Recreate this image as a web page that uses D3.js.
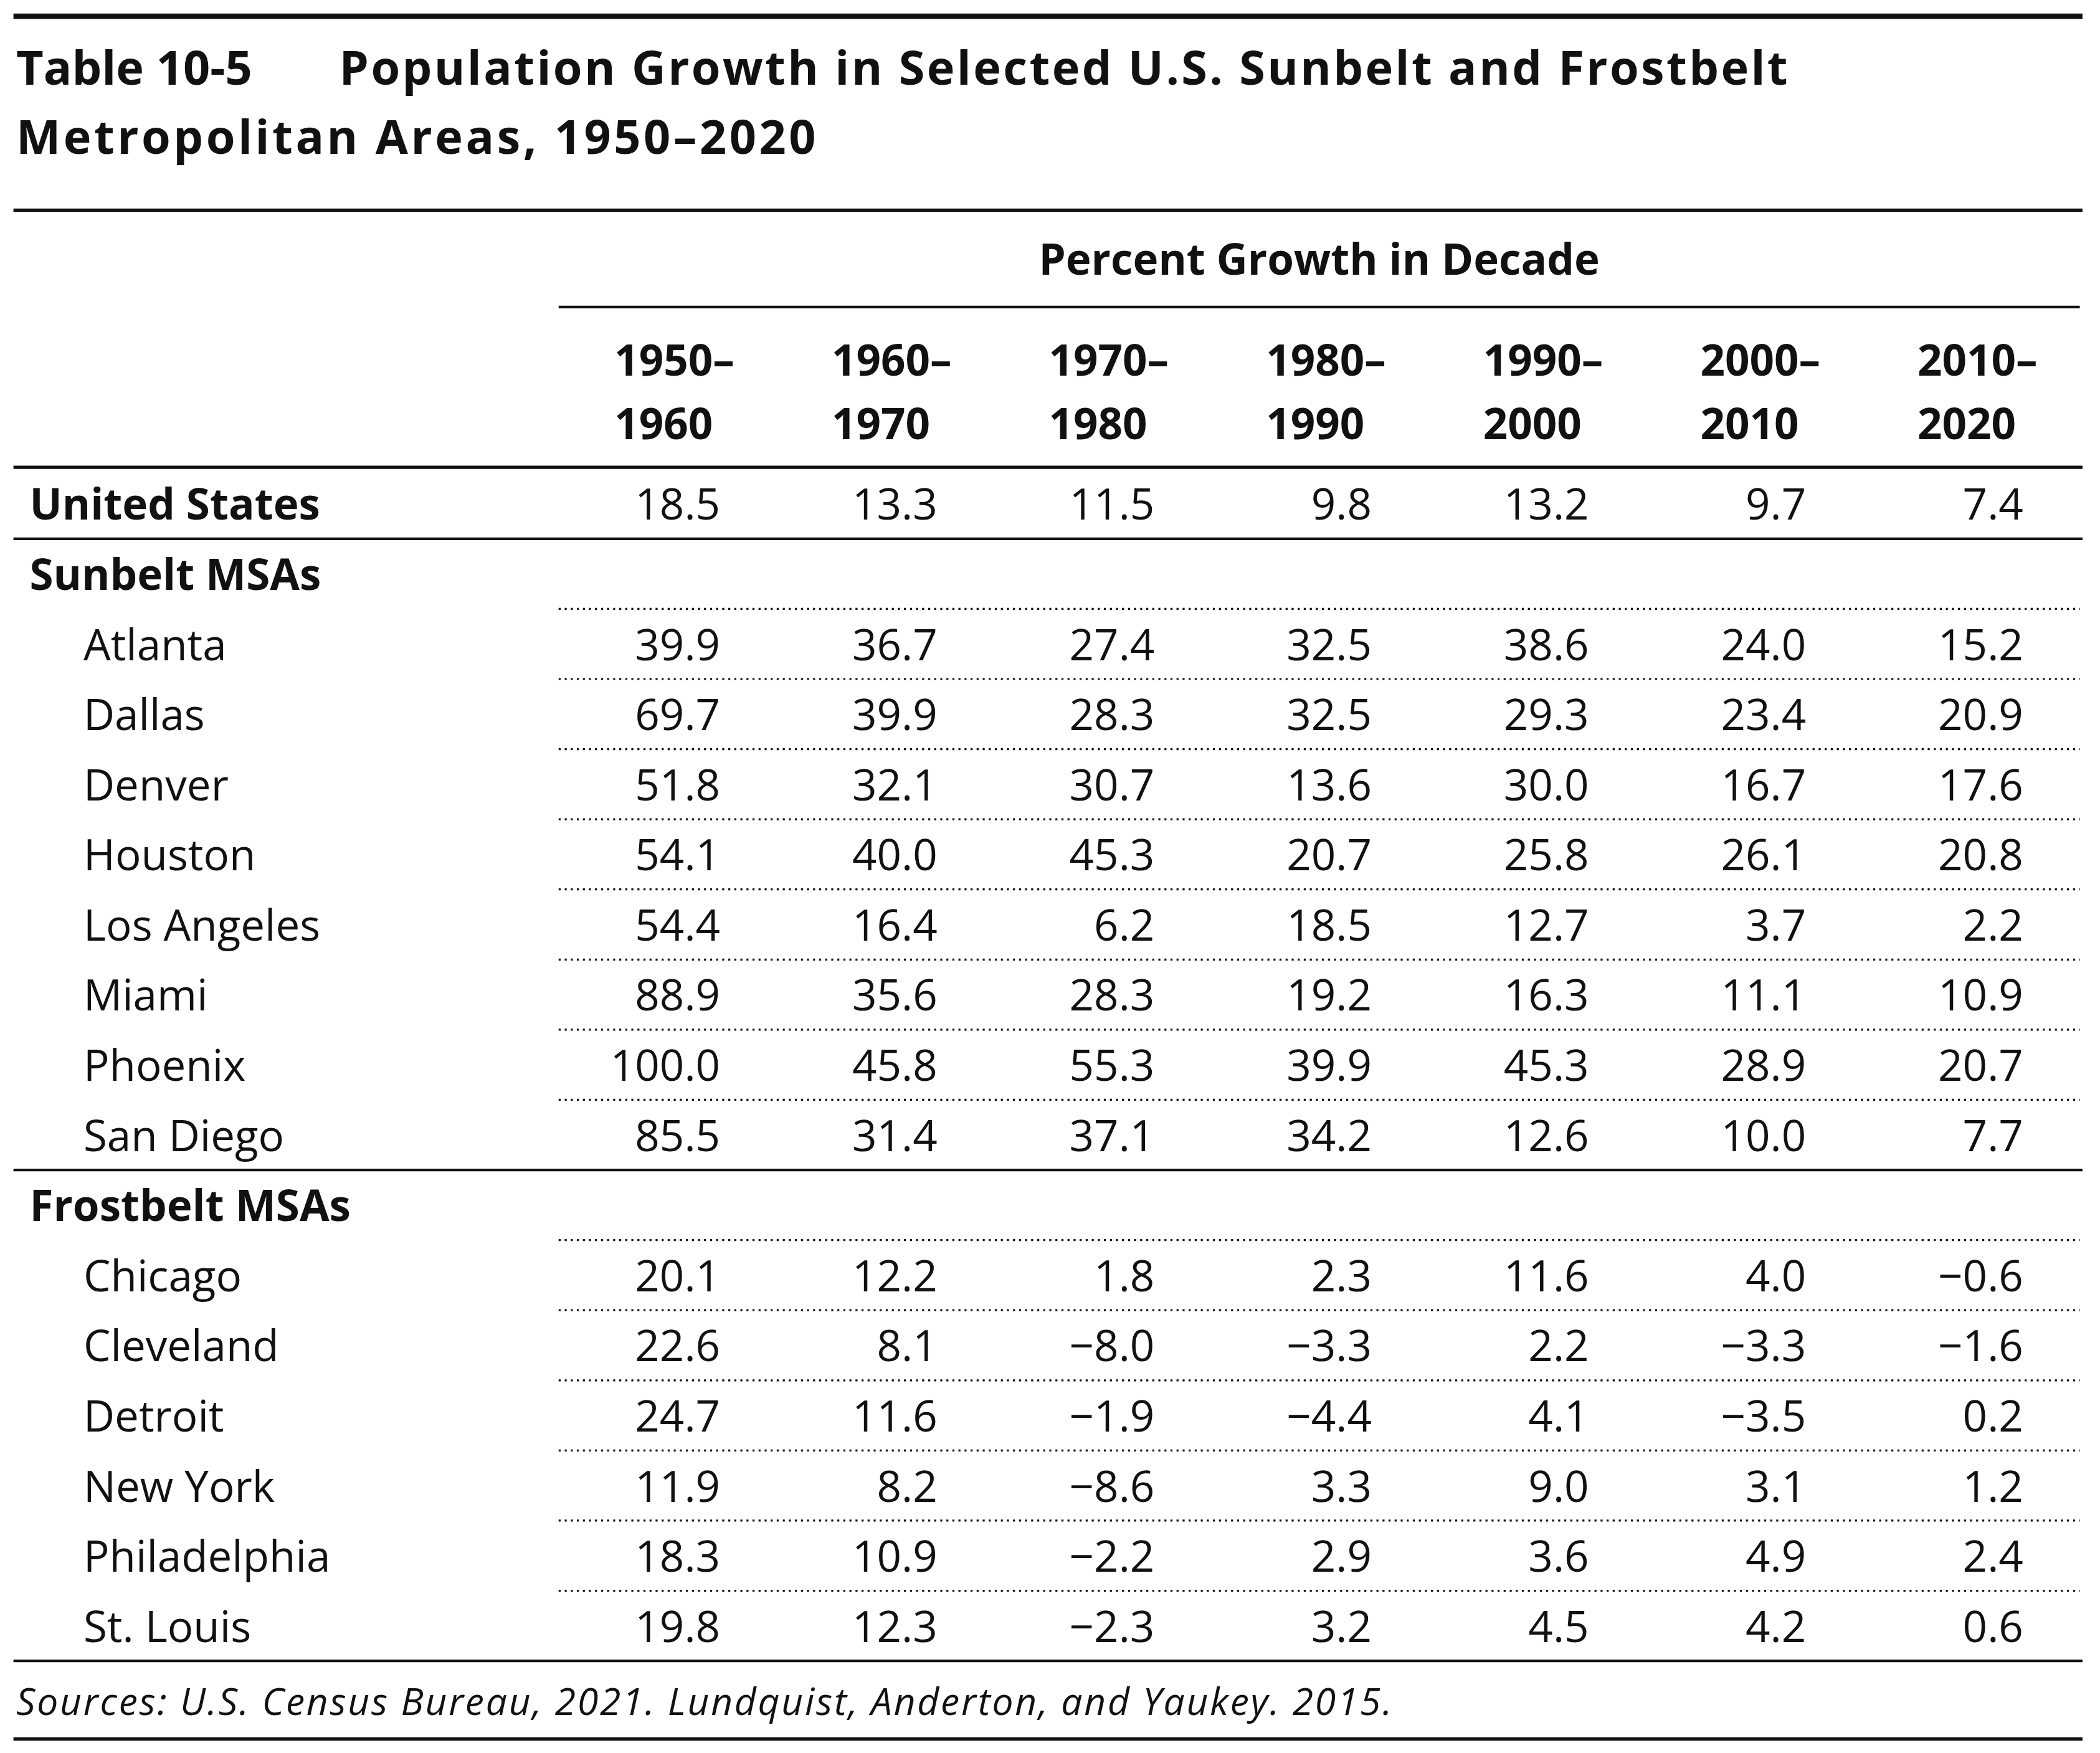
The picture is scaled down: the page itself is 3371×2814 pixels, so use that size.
<!DOCTYPE html>
<html><head><meta charset="utf-8">
<script src="https://cdn.jsdelivr.net/npm/d3@7"></script>
<style>body{margin:0;background:#fff}text{font-family:"Open Sans","Noto Sans",sans-serif;fill:#111}</style>
</head><body>
<script>
var periods = [["1950–","1960"],["1960–","1970"],["1970–","1980"],["1980–","1990"],["1990–","2000"],["2000–","2010"],["2010–","2020"]];
var usRow = ["18.5","13.3","11.5","9.8","13.2","9.7","7.4"];
var sunbeltNames = ["Atlanta","Dallas","Denver","Houston","Los Angeles","Miami","Phoenix","San Diego"];
var sunbeltValues = [
 ["39.9","36.7","27.4","32.5","38.6","24.0","15.2"],
 ["69.7","39.9","28.3","32.5","29.3","23.4","20.9"],
 ["51.8","32.1","30.7","13.6","30.0","16.7","17.6"],
 ["54.1","40.0","45.3","20.7","25.8","26.1","20.8"],
 ["54.4","16.4","6.2","18.5","12.7","3.7","2.2"],
 ["88.9","35.6","28.3","19.2","16.3","11.1","10.9"],
 ["100.0","45.8","55.3","39.9","45.3","28.9","20.7"],
 ["85.5","31.4","37.1","34.2","12.6","10.0","7.7"]];
var frostbeltNames = ["Chicago","Cleveland","Detroit","New York","Philadelphia","St. Louis"];
var frostbeltValues = [
 ["20.1","12.2","1.8","2.3","11.6","4.0","−0.6"],
 ["22.6","8.1","−8.0","−3.3","2.2","−3.3","−1.6"],
 ["24.7","11.6","−1.9","−4.4","4.1","−3.5","0.2"],
 ["11.9","8.2","−8.6","3.3","9.0","3.1","1.2"],
 ["18.3","10.9","−2.2","2.9","3.6","4.9","2.4"],
 ["19.8","12.3","−2.3","3.2","4.5","4.2","0.6"]];

// rows in display order
var rows = [{name:"United States", vals:usRow, kind:"us"}, {name:"Sunbelt MSAs", kind:"head"}];
sunbeltNames.forEach(function(n,i){ rows.push({name:n, vals:sunbeltValues[i], kind:"sub"}); });
rows.push({name:"Frostbelt MSAs", kind:"head"});
frostbeltNames.forEach(function(n,i){ rows.push({name:n, vals:frostbeltValues[i], kind:"sub"}); });

var W = 1560, H = 1302;
var svg = d3.select("body").append("svg").attr("width",3371).attr("height",2814).attr("viewBox","0 0 "+W+" "+H);

var y = d3.scaleLinear().domain([0, rows.length]).range([348, 348 + 52.1*rows.length]);
var colRight = d3.scaleLinear().domain([0,6]).range([535,1503]);
var FS = 32;

svg.append("line").attr("x1",10).attr("x2",1547).attr("y1",12).attr("y2",12).attr("stroke","#111").attr("stroke-width",4);
svg.append("text").attr("x",12).attr("y",63).attr("font-size",35).attr("font-weight",700).text("Table 10-5");
svg.append("text").attr("x",252).attr("y",63).attr("font-size",35).attr("font-weight",700).attr("textLength",1076).text("Population Growth in Selected U.S. Sunbelt and Frostbelt");
svg.append("text").attr("x",12).attr("y",114).attr("font-size",35).attr("font-weight",700).attr("textLength",594).text("Metropolitan Areas, 1950–2020");
svg.append("line").attr("x1",10).attr("x2",1547).attr("y1",156).attr("y2",156).attr("stroke","#111").attr("stroke-width",2.5);
svg.append("text").attr("x",980).attr("y",204).attr("text-anchor","middle").attr("font-size",FS).attr("font-weight",700).text("Percent Growth in Decade");
svg.append("line").attr("x1",415).attr("x2",1545).attr("y1",228).attr("y2",228).attr("stroke","#111").attr("stroke-width",2);

periods.forEach(function(p,i){
  var cx = colRight(i) - 34;
  svg.append("text").attr("x",cx).attr("y",279).attr("text-anchor","middle").attr("font-size",FS).attr("font-weight",700).text(p[0]);
  svg.append("text").attr("x",cx-8).attr("y",326).attr("text-anchor","middle").attr("font-size",FS).attr("font-weight",700).text(p[1]);
});
svg.append("line").attr("x1",10).attr("x2",1547).attr("y1",347).attr("y2",347).attr("stroke","#111").attr("stroke-width",2.5);

rows.forEach(function(r,i){
  var base = y(i) + 38;
  svg.append("text").attr("x", r.kind==="sub" ? 62 : 22).attr("y",base).attr("font-size",FS)
    .attr("font-weight", r.kind==="sub" ? 400 : 700).text(r.name);
  if (r.vals) r.vals.forEach(function(v,j){
    svg.append("text").attr("x",colRight(j)).attr("y",base).attr("text-anchor","end").attr("font-size",FS).text(v);
  });
  var next = rows[i+1];
  var yl = y(i+1);
  if (!next) return;
  if (r.kind==="us" || next.kind==="head") {
    svg.append("line").attr("x1",10).attr("x2",1547).attr("y1",yl).attr("y2",yl).attr("stroke","#111").attr("stroke-width",2);
  } else {
    svg.append("line").attr("x1",415).attr("x2",1545).attr("y1",yl).attr("y2",yl).attr("stroke","#111").attr("stroke-width",1.5).attr("stroke-dasharray","1.5,3");
  }
});
var yEnd = y(rows.length);
svg.append("line").attr("x1",10).attr("x2",1547).attr("y1",yEnd).attr("y2",yEnd).attr("stroke","#111").attr("stroke-width",2);
svg.append("text").attr("x",12).attr("y",yEnd+40).attr("font-size",28).attr("font-style","italic").attr("textLength",1022).text("Sources: U.S. Census Bureau, 2021. Lundquist, Anderton, and Yaukey. 2015.");
svg.append("line").attr("x1",10).attr("x2",1547).attr("y1",yEnd+58).attr("y2",yEnd+58).attr("stroke","#111").attr("stroke-width",2.5);
</script>
</body></html>
